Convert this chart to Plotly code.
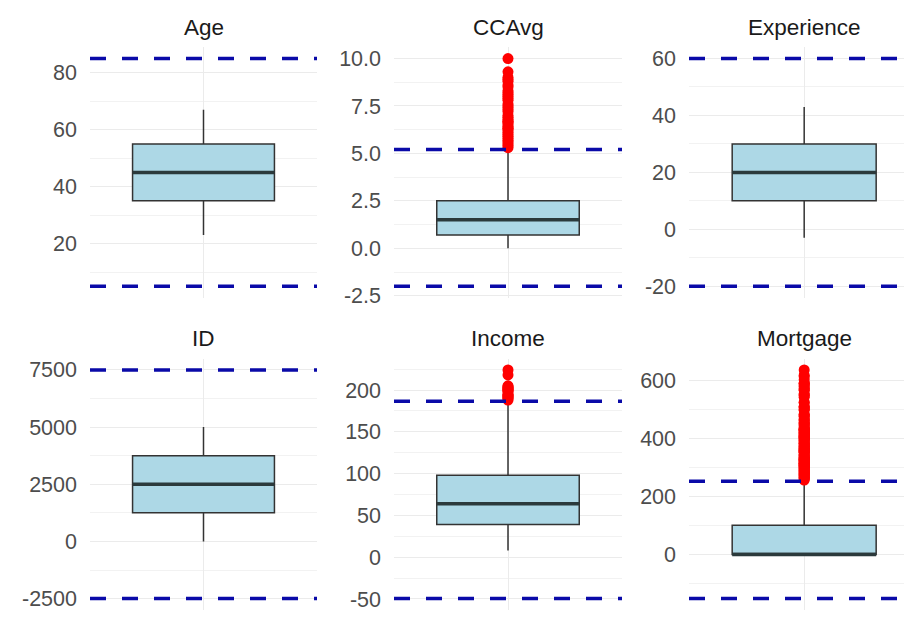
import math
import plotly.graph_objects as go

# Summary statistics per variable (quartiles, median, whisker ends)
variables = ["Age", "CCAvg", "Experience", "ID", "Income", "Mortgage"]
q1_vals = [35, 0.7, 10, 1250.75, 39, 0]
median_vals = [45, 1.5, 20, 2500.5, 64, 0]
q3_vals = [55, 2.5, 30, 3750.25, 98, 101]
whisker_low = [23, 0.0, -3, 1, 8, 0]
whisker_high = [67, 5.2, 43, 5000, 185, 252]

# Outlying observations beyond the upper fence
ccavg_outliers = [5.3, 5.4, 5.5, 5.6, 5.7, 5.8, 5.9, 6.0, 6.1, 6.2, 6.3, 6.33,
                  6.4, 6.5, 6.6, 6.67, 6.7, 6.8, 6.9, 7.0, 7.2, 7.3, 7.4, 7.5,
                  7.6, 7.8, 7.9, 8.0, 8.1, 8.2, 8.3, 8.5, 8.6, 8.8, 8.9, 9.0,
                  9.3, 10.0]
income_outliers = [188, 190, 191, 192, 193, 194, 195, 198, 199, 200, 201, 202,
                   203, 204, 205, 218, 224]
mortgage_outliers = [256, 260, 263, 264, 267, 270, 272, 275, 277, 280, 282, 285,
                     287, 289, 292, 294, 296, 299, 301, 304, 305, 307, 308, 309,
                     312, 313, 314, 315, 318, 319, 322, 323, 325, 326, 327, 329,
                     330, 333, 334, 336, 341, 342, 344, 351, 352, 353, 355, 357,
                     359, 360, 361, 364, 366, 368, 372, 373, 374, 380, 381, 382,
                     385, 389, 392, 394, 397, 400, 402, 403, 405, 406, 408, 410,
                     412, 415, 416, 419, 421, 422, 427, 428, 429, 431, 432, 433,
                     437, 442, 446, 449, 452, 455, 461, 464, 466, 475, 477, 481,
                     483, 496, 500, 505, 508, 509, 522, 524, 541, 547, 550, 553,
                     565, 567, 571, 577, 581, 587, 589, 590, 601, 612, 617, 635]
outliers = {"CCAvg": ccavg_outliers, "Income": income_outliers,
            "Mortgage": mortgage_outliers}

# Axis tick spacing and label decimals per panel
major_step = [20, 2.5, 20, 2500, 50, 200]
label_decimals = [0, 1, 0, 0, 0, 0]

W, H = 904, 621
# panel boxes in pixels: (left, right) per column, (top, bottom) per row
col_px = [(90, 317), (394, 622), (689, 904)]
row_px = [(48, 303), (365, 621)]
x_ranges = [[-0.6, 0.6], [-0.6, 0.6], [-0.6, 0.52]]
title_cx = [203.5, 508, 804]

FONT = "Liberation Sans, Arial, sans-serif"
GRID_MAJOR = "#EBEBEB"
GRID_MINOR = "#F2F2F2"
BOX_FILL = "#ADD8E6"
BOX_LINE = "#333333"
FENCE_COLOR = "#0A0AA8"


def tick_labels(lo, hi, step, dec):
    """Major ticks inside [lo, hi], labelled with a plain hyphen minus."""
    start = math.ceil(lo / step)
    stop = math.floor(hi / step)
    vals = [k * step for k in range(start, stop + 1)]
    texts = [f"{v:.{dec}f}" for v in vals]
    return vals, texts


fig = go.Figure()
layout = dict(
    width=W, height=H, margin=dict(l=0, r=0, t=0, b=0),
    paper_bgcolor="white", plot_bgcolor="white", showlegend=False,
    font=dict(family=FONT),
)
shapes = []
annotations = []

for i, name in enumerate(variables):
    r, c = divmod(i, 3)
    ax = "" if i == 0 else str(i + 1)
    xa, ya = "x" + ax, "y" + ax
    q1, q3 = q1_vals[i], q3_vals[i]
    iqr = q3 - q1
    lo_fence, hi_fence = q1 - 1.5 * iqr, q3 + 1.5 * iqr
    pts = outliers.get(name, [])

    # y limits like ggplot: data + fences, expanded by 5%
    vals = [lo_fence, hi_fence, whisker_low[i], whisker_high[i]] + pts
    vmin, vmax = min(vals), max(vals)
    pad = 0.05 * (vmax - vmin)
    yr = [vmin - pad, vmax + pad]

    fig.add_trace(go.Box(
        x=[0], q1=[q1], median=[median_vals[i]], q3=[q3],
        lowerfence=[whisker_low[i]], upperfence=[whisker_high[i]],
        width=0.75, whiskerwidth=0, boxpoints=False,
        fillcolor=BOX_FILL, line=dict(color=BOX_LINE, width=1.5),
        xaxis=xa, yaxis=ya, hoverinfo="skip",
    ))
    # heavier median bar
    fig.add_trace(go.Scatter(
        x=[-0.375, 0.375], y=[median_vals[i]] * 2, mode="lines",
        line=dict(color="#2B3A3C", width=3.5), xaxis=xa, yaxis=ya,
        hoverinfo="skip",
    ))
    if pts:
        fig.add_trace(go.Scatter(
            x=[0] * len(pts), y=pts, mode="markers",
            marker=dict(color="#FF0000", size=11, line=dict(width=0)),
            xaxis=xa, yaxis=ya, hoverinfo="skip",
        ))

    for yv in (lo_fence, hi_fence):
        shapes.append(dict(
            type="line", xref=xa + " domain", yref=ya, x0=0, x1=1, y0=yv, y1=yv,
            line=dict(color=FENCE_COLOR, width=3.5, dash="16px,16px"),
        ))

    x0, x1 = col_px[c]
    top, bot = row_px[r]
    layout["xaxis" + ax] = dict(
        domain=[x0 / W, x1 / W], range=x_ranges[c], anchor=ya,
        tickvals=[0], showticklabels=False, ticks="",
        showgrid=True, gridcolor=GRID_MAJOR, gridwidth=1,
        zeroline=False, showline=False, fixedrange=True,
    )
    step = major_step[i]
    tv, tt = tick_labels(yr[0], yr[1], step, label_decimals[i])
    layout["yaxis" + ax] = dict(
        domain=[(H - bot) / H, (H - top) / H], range=yr, anchor=xa,
        tickmode="array", tickvals=tv, ticktext=tt,
        ticks="", ticklabelstandoff=12,
        tickfont=dict(size=21.5, color="#4D4D4D", family=FONT),
        showgrid=True, gridcolor=GRID_MAJOR, gridwidth=1.2,
        minor=dict(tickmode="linear", tick0=step / 2, dtick=step,
                   showgrid=True, gridcolor=GRID_MINOR, gridwidth=1),
        zeroline=False, showline=False, fixedrange=True,
    )
    # facet strip title
    annotations.append(dict(
        text=name, xref="paper", yref="paper",
        x=title_cx[c] / W, y=(H - (top - 20)) / H,
        xanchor="center", yanchor="middle", showarrow=False,
        font=dict(size=22.5, color="#1A1A1A", family=FONT),
    ))

layout["shapes"] = shapes
layout["annotations"] = annotations
fig.update_layout(**layout)
fig.write_html("out.html")
